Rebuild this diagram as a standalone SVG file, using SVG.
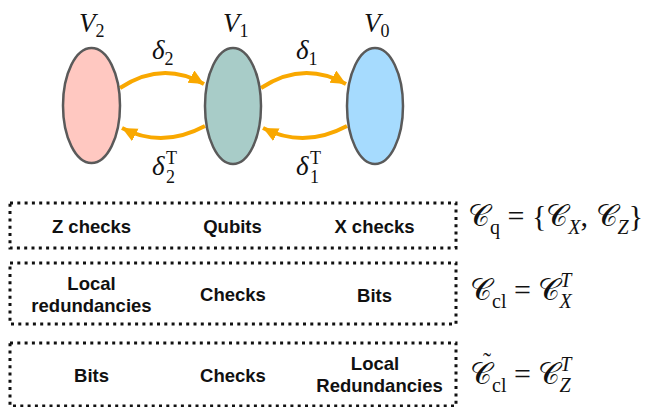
<svg xmlns="http://www.w3.org/2000/svg" width="650" height="407" viewBox="0 0 650 407">
<style>
.ell{stroke:#5a5a5a;stroke-width:2.5}
.arc{fill:none;stroke:#F9A800;stroke-width:4}
.lbl{font-family:"Liberation Sans",Arial,sans-serif;font-weight:bold;font-size:18.5px;fill:#111;text-anchor:middle}
.box{fill:none;stroke:#111;stroke-width:3;stroke-dasharray:3 4.3}
.m{font-family:"Liberation Serif","DejaVu Serif",serif;font-size:30px;fill:#111}
.mi{font-family:"Liberation Serif","DejaVu Serif",serif;font-size:27px;font-style:italic;fill:#111}
.s{font-size:18px}
.ms{font-size:20px}
.sc{font-family:"DejaVu Serif","Liberation Serif",serif;font-size:29.5px;fill:#111}
</style>
<defs>
<marker id="ah" markerUnits="userSpaceOnUse" markerWidth="18" markerHeight="16" refX="15" refY="7" orient="auto">
<path d="M0,0 L15,7 L0,14 Z" fill="#F9A800"/>
</marker>
</defs>
<g id="connectors">
<path class="arc" d="M120,88 Q162,60 204,84" marker-end="url(#ah)"/>
<path class="arc" d="M205,126 Q162,149 122,128" marker-end="url(#ah)"/>
<path class="arc" d="M261,88 Q303,60 346,84" marker-end="url(#ah)"/>
<path class="arc" d="M347,126 Q304,149 263,128" marker-end="url(#ah)"/>
</g>
<g id="V2">
<ellipse class="ell" cx="91.5" cy="105.5" rx="28.5" ry="57.5" fill="#FFC8C1"/>
<text class="mi" x="79" y="32">V<tspan class="s" font-style="normal" dy="5">2</tspan></text>
</g>
<g id="V1">
<ellipse class="ell" cx="233" cy="106" rx="28" ry="58" fill="#A8CCC8"/>
<text class="mi" x="223" y="32">V<tspan class="s" font-style="normal" dy="5">1</tspan></text>
</g>
<g id="V0">
<ellipse class="ell" cx="375" cy="106" rx="28" ry="58" fill="#A6DBFE"/>
<text class="mi" x="364" y="32">V<tspan class="s" font-style="normal" dy="5">0</tspan></text>
</g>
<g id="labels">
<text class="mi" x="152" y="59">δ<tspan class="s" font-style="normal" dy="6">2</tspan></text>
<text class="mi" x="296" y="59">δ<tspan class="s" font-style="normal" dy="6">1</tspan></text>
<text class="mi" x="152" y="175">δ<tspan class="s" font-style="normal" x="166" dy="-11">T</tspan><tspan class="s" font-style="normal" x="166" dy="19">2</tspan></text>
<text class="mi" x="296" y="175">δ<tspan class="s" font-style="normal" x="310" dy="-11">T</tspan><tspan class="s" font-style="normal" x="310" dy="19">1</tspan></text>
</g>
<g id="row1">
<rect class="box" x="10" y="203" width="446" height="45"/>
<text class="lbl" x="91.5" y="233">Z checks</text>
<text class="lbl" x="232.5" y="233">Qubits</text>
<text class="lbl" x="374.5" y="233">X checks</text>
<text class="m" x="468" y="226"><tspan class="sc">𝒞</tspan><tspan class="ms" dy="8">q</tspan><tspan dy="-8"> = {</tspan><tspan class="sc">𝒞</tspan><tspan class="ms" font-style="italic" dy="8">X</tspan><tspan dy="-8">, </tspan><tspan class="sc">𝒞</tspan><tspan class="ms" font-style="italic" dy="8">Z</tspan><tspan dy="-8">}</tspan></text>
</g>
<g id="row2">
<rect class="box" x="10" y="263" width="446" height="61"/>
<text class="lbl" x="91.5" y="290">Local</text>
<text class="lbl" x="91.5" y="312">redundancies</text>
<text class="lbl" x="233" y="301">Checks</text>
<text class="lbl" x="374.5" y="302">Bits</text>
<text class="m" x="470" y="300"><tspan class="sc">𝒞</tspan><tspan class="ms" dy="8">cl</tspan><tspan dy="-8"> = </tspan><tspan class="sc">𝒞</tspan><tspan class="ms" font-style="italic" dy="-13">T</tspan><tspan class="ms" font-style="italic" dx="-12" dy="21">X</tspan></text>
</g>
<g id="row3">
<rect class="box" x="10" y="343" width="446" height="63"/>
<text class="lbl" x="91.5" y="382">Bits</text>
<text class="lbl" x="233" y="382">Checks</text>
<text class="lbl" x="375" y="370">Local</text>
<text class="lbl" x="379.5" y="392">Redundancies</text>
<text class="m" x="470" y="384"><tspan x="483" y="369" font-size="24px">˜</tspan><tspan class="sc" x="470" y="384">𝒞</tspan><tspan class="ms" dy="8">cl</tspan><tspan dy="-8"> = </tspan><tspan class="sc">𝒞</tspan><tspan class="ms" font-style="italic" dy="-13">T</tspan><tspan class="ms" font-style="italic" dx="-12" dy="21">Z</tspan></text>
</g>
</svg>
